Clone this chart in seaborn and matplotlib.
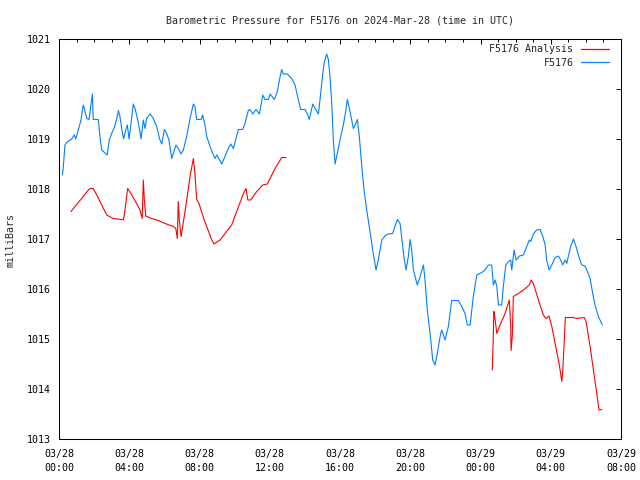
import numpy as np
import pandas as pd
import matplotlib
matplotlib.use("Agg")
import matplotlib.pyplot as plt
import matplotlib.dates as mdates
import seaborn as sns

# hours since 2024-03-28 00:00 UTC, pressure in mbar
obs_hours = [
    0.19, 0.24, 0.34, 0.44, 0.72, 0.87, 0.95, 1.10, 1.25, 1.38, 1.44, 1.58, 1.71, 1.82, 1.90, 1.95,
    2.24, 2.33, 2.43, 2.62, 2.75, 2.86, 3.00, 3.15, 3.29, 3.38, 3.47, 3.57, 3.68, 3.80, 3.89, 3.99,
    4.10, 4.23, 4.33, 4.48, 4.61, 4.67, 4.80, 4.90, 4.99, 5.18, 5.37, 5.56, 5.75, 5.85, 6.00, 6.13,
    6.26, 6.42, 6.57, 6.66, 6.79, 6.95, 7.08, 7.27, 7.46, 7.65, 7.74, 7.84, 8.09, 8.18, 8.31, 8.41,
    8.60, 8.79, 8.88, 8.98, 9.13, 9.27, 9.45, 9.64, 9.78, 9.93, 10.08, 10.21, 10.46, 10.59, 10.78,
    10.88, 11.03, 11.22, 11.41, 11.60, 11.73, 11.92, 12.02, 12.26, 12.43, 12.59, 12.68, 12.77, 13.00,
    13.25, 13.44, 13.63, 13.76, 14.01, 14.14, 14.25, 14.45, 14.58, 14.77, 14.90, 15.02, 15.09, 15.24,
    15.34, 15.43, 15.53, 15.62, 15.72, 15.81, 16.00, 16.19, 16.29, 16.42, 16.57, 16.76, 16.86, 16.99,
    17.10, 17.24, 17.37, 17.52, 17.71, 17.86, 18.05, 18.18, 18.38, 18.56, 18.75, 19.00, 19.13, 19.27,
    19.42, 19.52, 19.65, 19.76, 19.89, 19.99, 20.09, 20.18, 20.40, 20.56, 20.75, 20.84, 20.97, 21.13,
    21.28, 21.41, 21.54, 21.70, 21.79, 21.98, 22.17, 22.36, 22.74, 22.93, 23.12, 23.25, 23.41, 23.59,
    23.79, 24.07, 24.26, 24.45, 24.64, 24.73, 24.83, 24.93, 25.02, 25.21, 25.30, 25.44, 25.59, 25.72,
    25.78, 25.91, 26.03, 26.21, 26.44, 26.63, 26.78, 26.86, 27.01, 27.20, 27.39, 27.55, 27.68, 27.77,
    27.90, 28.06, 28.25, 28.43, 28.57, 28.68, 28.82, 28.91, 29.00, 29.14, 29.29, 29.44, 29.63, 29.77,
    29.95, 30.09, 30.24, 30.39, 30.52, 30.71, 30.94,
]
obs_pressure = [
    1018.28, 1018.42, 1018.88, 1018.93, 1019.00, 1019.08, 1019.00, 1019.18, 1019.38, 1019.68, 1019.61,
    1019.41, 1019.39, 1019.68, 1019.90, 1019.39, 1019.39, 1019.05, 1018.78, 1018.72, 1018.68, 1018.98,
    1019.11, 1019.23, 1019.41, 1019.57, 1019.45, 1019.21, 1019.00, 1019.18, 1019.28, 1019.00, 1019.31,
    1019.70, 1019.61, 1019.38, 1019.15, 1019.00, 1019.38, 1019.21, 1019.41, 1019.50, 1019.41, 1019.25,
    1018.98, 1018.90, 1019.19, 1019.11, 1018.98, 1018.61, 1018.78, 1018.88, 1018.81, 1018.70, 1018.78,
    1019.05, 1019.41, 1019.70, 1019.65, 1019.39, 1019.39, 1019.48, 1019.28, 1019.05, 1018.85, 1018.68,
    1018.61, 1018.68, 1018.59, 1018.50, 1018.65, 1018.81, 1018.90, 1018.81, 1019.01, 1019.19, 1019.19,
    1019.31, 1019.57, 1019.59, 1019.50, 1019.59, 1019.50, 1019.88, 1019.79, 1019.79, 1019.90, 1019.79,
    1019.95, 1020.25, 1020.39, 1020.30, 1020.30, 1020.21, 1020.08, 1019.78, 1019.59, 1019.59, 1019.50,
    1019.39, 1019.70, 1019.61, 1019.50, 1019.91, 1020.31, 1020.51, 1020.70, 1020.59, 1020.25, 1019.71,
    1018.98, 1018.50, 1018.65, 1018.98, 1019.28, 1019.48, 1019.79, 1019.55, 1019.21, 1019.28, 1019.39,
    1019.05, 1018.45, 1017.98, 1017.58, 1017.15, 1016.78, 1016.38, 1016.58, 1016.98, 1017.06, 1017.10,
    1017.11, 1017.25, 1017.39, 1017.31, 1017.01, 1016.61, 1016.38, 1016.65, 1016.99, 1016.75, 1016.38,
    1016.08, 1016.25, 1016.48, 1016.18, 1015.58, 1015.11, 1014.58, 1014.48, 1014.71, 1015.05, 1015.18,
    1014.98, 1015.25, 1015.77, 1015.77, 1015.65, 1015.51, 1015.28, 1015.28, 1015.85, 1016.28, 1016.33,
    1016.38, 1016.48, 1016.48, 1016.08, 1016.18, 1016.05, 1015.68, 1015.68, 1016.05, 1016.48, 1016.55,
    1016.58, 1016.38, 1016.78, 1016.58, 1016.66, 1016.68, 1016.85, 1016.98, 1016.95, 1017.10, 1017.18,
    1017.19, 1017.05, 1016.88, 1016.58, 1016.38, 1016.48, 1016.63, 1016.66, 1016.58, 1016.48, 1016.58,
    1016.51, 1016.65, 1016.85, 1017.00, 1016.85, 1016.61, 1016.48, 1016.46, 1016.35, 1016.21, 1015.91,
    1015.68, 1015.45, 1015.28,
]

# analysis has a gap between the two runs
ana1_hours = [
    0.68, 0.91, 1.29, 1.67, 1.77, 1.95, 2.15, 2.43, 2.72, 3.09, 3.38, 3.66, 3.72, 3.91, 4.14, 4.42,
    4.61, 4.74, 4.80, 4.86, 4.94, 5.28, 5.65, 6.04, 6.51, 6.65, 6.74, 6.79, 6.85, 6.95, 7.22, 7.46,
    7.65, 7.74, 7.84, 7.97, 8.27, 8.70, 8.83, 9.17, 9.83, 10.50, 10.65, 10.75, 10.92, 11.26, 11.60,
    11.86, 12.30, 12.68, 12.93,
]
ana1_pressure = [
    1017.55, 1017.65, 1017.81, 1017.98, 1018.01, 1018.01, 1017.88, 1017.68, 1017.48, 1017.41, 1017.40,
    1017.38, 1017.48, 1018.01, 1017.88, 1017.71, 1017.58, 1017.41, 1018.18, 1017.78, 1017.46, 1017.41,
    1017.37, 1017.31, 1017.25, 1017.21, 1017.01, 1017.75, 1017.38, 1017.05, 1017.65, 1018.25, 1018.61,
    1018.31, 1017.79, 1017.71, 1017.38, 1016.98, 1016.90, 1016.98, 1017.28, 1017.91, 1018.01, 1017.78,
    1017.78, 1017.95, 1018.08, 1018.10, 1018.41, 1018.63, 1018.63,
]
ana2_hours = [
    24.67, 24.72, 24.76, 24.81, 24.93, 25.11, 25.40, 25.64, 25.72, 25.74, 25.81, 25.87, 26.16, 26.44,
    26.78, 26.88, 27.01, 27.30, 27.58, 27.73, 27.90, 28.06, 28.25, 28.49, 28.63, 28.68, 28.76, 28.83,
    29.29, 29.48, 29.90, 30.01, 30.24, 30.43, 30.62, 30.75, 30.90,
]
ana2_pressure = [
    1014.38, 1014.95, 1015.55, 1015.45, 1015.11, 1015.28, 1015.51, 1015.78, 1015.28, 1014.77, 1015.05,
    1015.85, 1015.91, 1015.98, 1016.08, 1016.18, 1016.11, 1015.78, 1015.48, 1015.41, 1015.46, 1015.25,
    1014.91, 1014.48, 1014.15, 1014.35, 1014.88, 1015.43, 1015.43, 1015.41, 1015.43, 1015.35, 1014.85,
    1014.38, 1013.91, 1013.58, 1013.59,
]

start = pd.Timestamp("2024-03-28 00:00")

obs = pd.DataFrame({
    "time": start + pd.to_timedelta(obs_hours, unit="h"),
    "pressure": obs_pressure,
})
ana = pd.DataFrame({
    "time": start + pd.to_timedelta(ana1_hours + ana2_hours, unit="h"),
    "pressure": ana1_pressure + ana2_pressure,
    "segment": [1] * len(ana1_hours) + [2] * len(ana2_hours),
})

sns.set_theme(style="white")
plt.rcParams["font.family"] = ["DejaVu Sans Mono"]
plt.rcParams["font.size"] = 7.2

fig, ax = plt.subplots(figsize=(6.4, 4.8), dpi=100)
fig.subplots_adjust(left=59 / 640, right=621 / 640, top=1 - 39 / 480, bottom=1 - 439 / 480)

red = "#ff0000"
blue = "#0080ff"

sns.lineplot(data=ana, x="time", y="pressure", units="segment", estimator=None,
             color=red, linewidth=0.8, ax=ax)
sns.lineplot(data=obs, x="time", y="pressure", color=blue, linewidth=0.8, ax=ax)

ax.set_xlim(start, start + pd.Timedelta(hours=32))
ax.set_ylim(1013, 1021)
ax.set_yticks(np.arange(1013, 1022, 1))

ax.xaxis.set_major_locator(mdates.HourLocator(byhour=range(0, 24, 4)))
ax.xaxis.set_minor_locator(mdates.HourLocator())
ax.xaxis.set_major_formatter(mdates.DateFormatter("%m/%d\n%H:%M"))

ax.tick_params(axis="both", which="both", direction="in", top=True, right=True,
               colors="black", width=0.7)
ax.tick_params(axis="both", which="major", length=3.5, labelsize=7.2)
ax.tick_params(axis="x", which="major", pad=7.5)
ax.tick_params(axis="y", which="major", pad=6)
ax.tick_params(axis="x", which="minor", length=1.8)
for lbl in ax.get_xticklabels():
    lbl.set_linespacing(1.5)

for sp in ax.spines.values():
    sp.set_color("black")
    sp.set_linewidth(0.75)

ax.set_xlabel("")
ax.set_ylabel("")
fig.text(11 / 640, 1 - 240 / 480, "milliBars", rotation=90, ha="center", va="center", fontsize=7.2)
ax.set_title("Barometric Pressure for F5176 on 2024-Mar-28 (time in UTC)", fontsize=7.2, pad=11.5)

handles = [plt.Line2D([], [], color=red, lw=0.9), plt.Line2D([], [], color=blue, lw=0.9)]
ax.legend(handles, ["F5176 Analysis", "F5176"], loc="upper right", frameon=False,
          markerfirst=False, handlelength=2.8, handletextpad=0.75, labelspacing=0.35,
          borderpad=0, borderaxespad=0, bbox_to_anchor=(0.9786, 0.9875), fontsize=7.2)

fig.savefig("out.png", dpi=100)
